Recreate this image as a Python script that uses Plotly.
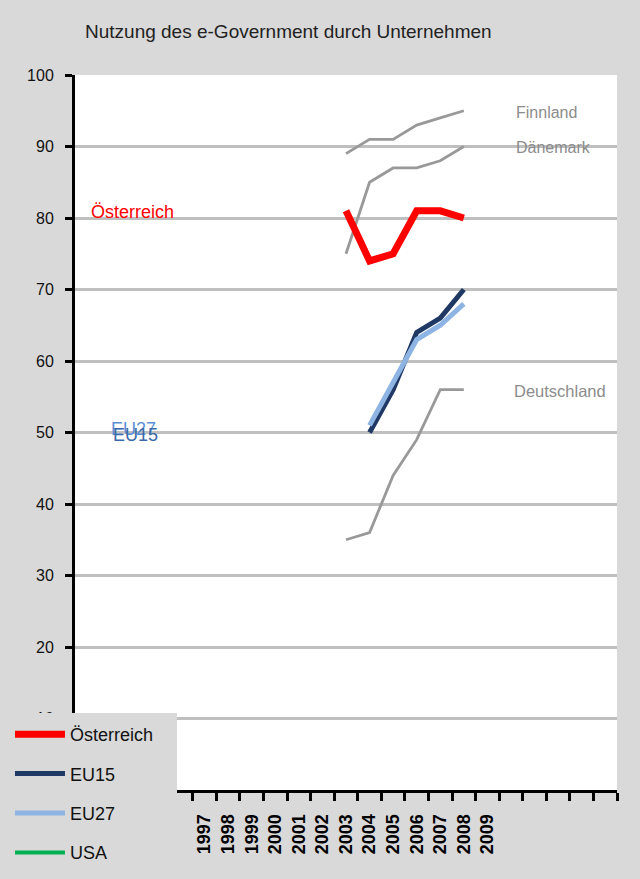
import plotly.graph_objects as go

title = "Nutzung des e-Government durch Unternehmen"
years_all = list(range(1997, 2010))
years = [2003, 2004, 2005, 2006, 2007, 2008]
years_eu = [2004, 2005, 2006, 2007, 2008]

finnland = [89, 91, 91, 93, 94, 95]
daenemark = [75, 85, 87, 87, 88, 90]
deutschland = [35, 36, 44, 49, 56, 56]
oesterreich = [81, 74, 75, 81, 81, 80]
eu15 = [50, 56, 64, 66, 70]
eu27 = [51, 57, 63, 65, 68]
usa = []

FONT = "Liberation Sans, Arial, sans-serif"
BG = "#D9D9D9"
GRAY = "#999999"
PAD = "&nbsp;" * 3

fig = go.Figure()
for vals in (finnland, daenemark, deutschland):
    fig.add_trace(go.Scatter(x=years, y=vals, mode="lines", showlegend=False,
                             line=dict(color=GRAY, width=2.8), hoverinfo="skip"))

fig.add_trace(go.Scatter(x=years, y=oesterreich, mode="lines", name="Österreich" + PAD,
                         legendgroup="a", line=dict(color="#FF0000", width=7)))
fig.add_trace(go.Scatter(x=years_eu, y=eu15, mode="lines", name="EU15",
                         legendgroup="b", line=dict(color="#1F3864", width=5)))
fig.add_trace(go.Scatter(x=years_eu, y=eu27, mode="lines", name="EU27",
                         legendgroup="c", line=dict(color="#8DB4E2", width=5)))
fig.add_trace(go.Scatter(x=[None], y=[None], mode="lines", name="USA",
                         legendgroup="d", line=dict(color="#00B050", width=4)))

ann = [
    ("Finnland", 2010.15, 94.8, "#8C8C8C", 16),
    ("Dänemark", 2010.15, 89.9, "#8C8C8C", 16),
    ("Deutschland", 2010.05, 55.8, "#8C8C8C", 16.5),
    ("Österreich", 1992.1, 80.9, "#FF0000", 18),
    ("EU27", 1992.95, 50.5, "#5B8FD6", 18),
    ("EU15", 1993.02, 49.6, "#3A6AA8", 18),
]
for text, x, y, c, s in ann:
    fig.add_annotation(x=x, y=y, text=text, showarrow=False, xanchor="left",
                       yanchor="middle", font=dict(family=FONT, size=s, color=c))

fig.update_layout(
    width=640, height=879,
    paper_bgcolor=BG, plot_bgcolor="white",
    margin=dict(l=75, r=23, t=75, b=89, autoexpand=False),
    title=dict(text=title, x=85 / 640, xanchor="left", y=1 - 31 / 879, yanchor="middle",
               font=dict(family=FONT, size=19, color="#222222")),
    font=dict(family=FONT),
    legend=dict(x=-0.1255, y=0.1077, xanchor="left", yanchor="top",
                bgcolor=BG, bordercolor=BG, borderwidth=3, tracegroupgap=13, itemwidth=50,
                font=dict(family=FONT, size=18, color="#111111")),
    showlegend=True,
)
fig.update_xaxes(
    range=[1991.5, 2014.5], tickmode="array", tickvals=years_all,
    ticktext=[str(y) for y in years_all], ticks="", tickangle=-90,
    tickfont=dict(family=FONT, size=18, color="black", weight="bold"),
    showline=True, linecolor="black", linewidth=3, showgrid=False, zeroline=False,
    ticklabelstandoff=14, automargin=False,
    minor=dict(tickmode="array", tickvals=[1991.5 + i for i in range(24)],
               ticks="outside", ticklen=8, tickwidth=3, tickcolor="black", showgrid=False),
)
fig.update_yaxes(
    range=[0, 100], tickmode="array", tickvals=list(range(10, 101, 10)),
    ticks="outside", ticklen=7, tickwidth=3, tickcolor="black",
    tickfont=dict(family=FONT, size=16, color="#111111"),
    showline=True, linecolor="black", linewidth=3,
    showgrid=True, gridcolor="#BFBFBF", gridwidth=3, zeroline=False,
    ticklabelstandoff=8, automargin=False,
)

fig.write_html(
    "out.html",
    config={"displayModeBar": False},
    post_script="document.body.style.margin='0';document.body.style.background='%s';"
                "document.documentElement.style.overflow='hidden';" % BG,
)
